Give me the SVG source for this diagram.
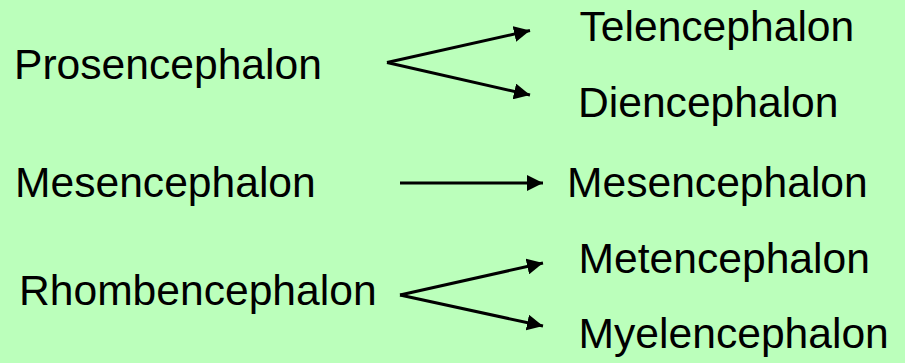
<svg xmlns="http://www.w3.org/2000/svg" width="905" height="363" viewBox="0 0 905 363">
  <style>
    .lbl { font-family: "Liberation Sans", Arial, sans-serif; font-size: 42.6px; fill: #000; }
    .edge { stroke: #000; stroke-width: 3; fill: none; marker-end: url(#arrow); }
  </style>
  <defs>
    <marker id="arrow" markerUnits="userSpaceOnUse" markerWidth="18" markerHeight="16" refX="16" refY="8" orient="auto">
      <path d="M0,0 L16,8 L0,16 Z" fill="#000"/>
    </marker>
  </defs>
  <rect width="905" height="363" fill="#bbffbb"/>

  <g id="connectors">
    <path class="edge" d="M387,62.5 L530,30.5"/>
    <path class="edge" d="M387,62.5 L530,95"/>
    <path class="edge" d="M400,183 L543,183"/>
    <path class="edge" d="M400,295 L543,263"/>
    <path class="edge" d="M400,295 L543,326"/>
  </g>

  <g id="prosencephalon"><text class="lbl" x="14" y="78.5">Prosencephalon</text></g>
  <g id="telencephalon"><text class="lbl" x="579.5" y="40.7">Telencephalon</text></g>
  <g id="diencephalon"><text class="lbl" x="578" y="117.3">Diencephalon</text></g>
  <g id="mesencephalon-left"><text class="lbl" x="15" y="196.7">Mesencephalon</text></g>
  <g id="mesencephalon-right"><text class="lbl" x="567" y="196.7">Mesencephalon</text></g>
  <g id="rhombencephalon"><text class="lbl" x="19" y="305">Rhombencephalon</text></g>
  <g id="metencephalon"><text class="lbl" x="578.6" y="273.3">Metencephalon</text></g>
  <g id="myelencephalon"><text class="lbl" x="578.6" y="348.3">Myelencephalon</text></g>
</svg>
